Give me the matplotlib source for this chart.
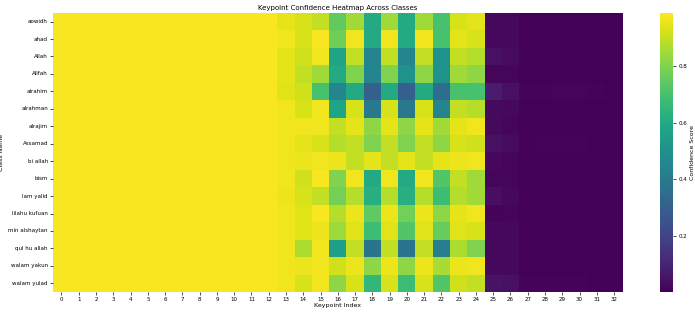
import numpy as np
import matplotlib
matplotlib.use("Agg")
import matplotlib.pyplot as plt
import seaborn as sns

class_names = ["aowidh", "ahad", "Allah", "Allfah", "alrahim", "alrahman", "alrajim",
               "Assamad", "bi allah", "bism", "lam yalid", "lilahu kufuan",
               "min alshaytan", "qul hu allah", "walam yakun", "walam yulad"]
keypoints = list(range(33))

Y = 0.98
# columns 0-12 (stable keypoints)
head = [Y] * 13
# columns 13-24 per class
mid = [
    [0.95, 0.93, 0.90, 0.75, 0.85, 0.60, 0.85, 0.60, 0.85, 0.70, 0.93, 0.95],
    [0.97, 0.93, 0.98, 0.77, 0.97, 0.60, 0.97, 0.60, 0.97, 0.70, 0.95, 0.93],
    [0.95, 0.92, 0.97, 0.58, 0.90, 0.45, 0.90, 0.45, 0.90, 0.50, 0.90, 0.88],
    [0.95, 0.90, 0.85, 0.60, 0.80, 0.45, 0.80, 0.50, 0.82, 0.50, 0.85, 0.82],
    [0.94, 0.92, 0.70, 0.45, 0.60, 0.30, 0.60, 0.30, 0.60, 0.35, 0.70, 0.70],
    [0.97, 0.93, 0.97, 0.58, 0.93, 0.40, 0.93, 0.40, 0.93, 0.45, 0.90, 0.88],
    [0.97, 0.97, 0.97, 0.90, 0.95, 0.82, 0.95, 0.82, 0.95, 0.85, 0.95, 0.97],
    [0.97, 0.95, 0.93, 0.88, 0.90, 0.80, 0.90, 0.80, 0.90, 0.82, 0.93, 0.92],
    [0.97, 0.96, 0.97, 0.96, 0.90, 0.95, 0.90, 0.95, 0.90, 0.95, 0.96, 0.97],
    [0.97, 0.92, 0.98, 0.80, 0.97, 0.60, 0.97, 0.60, 0.97, 0.72, 0.90, 0.85],
    [0.96, 0.93, 0.90, 0.78, 0.88, 0.62, 0.88, 0.62, 0.88, 0.68, 0.88, 0.85],
    [0.97, 0.94, 0.98, 0.88, 0.96, 0.75, 0.96, 0.78, 0.96, 0.82, 0.95, 0.97],
    [0.97, 0.94, 0.96, 0.84, 0.94, 0.68, 0.94, 0.72, 0.94, 0.76, 0.94, 0.93],
    [0.97, 0.87, 0.97, 0.55, 0.90, 0.38, 0.90, 0.38, 0.90, 0.42, 0.87, 0.80],
    [0.97, 0.96, 0.97, 0.92, 0.96, 0.82, 0.96, 0.82, 0.96, 0.86, 0.96, 0.97],
    [0.97, 0.93, 0.97, 0.82, 0.93, 0.65, 0.93, 0.68, 0.93, 0.72, 0.92, 0.90],
]
# columns 25-32 per class
tail = [
    [0.020, 0.020, 0.005, 0.005, 0.005, 0.005, 0.005, 0.005],
    [0.020, 0.020, 0.005, 0.005, 0.005, 0.005, 0.005, 0.005],
    [0.040, 0.030, 0.005, 0.005, 0.005, 0.005, 0.005, 0.005],
    [0.015, 0.015, 0.005, 0.005, 0.005, 0.005, 0.005, 0.005],
    [0.080, 0.040, 0.010, 0.010, 0.015, 0.015, 0.010, 0.005],
    [0.025, 0.020, 0.005, 0.005, 0.005, 0.005, 0.005, 0.005],
    [0.025, 0.015, 0.005, 0.005, 0.005, 0.005, 0.005, 0.005],
    [0.040, 0.030, 0.005, 0.010, 0.010, 0.010, 0.005, 0.005],
    [0.020, 0.015, 0.005, 0.005, 0.005, 0.005, 0.005, 0.005],
    [0.015, 0.015, 0.005, 0.005, 0.005, 0.005, 0.005, 0.005],
    [0.035, 0.020, 0.005, 0.005, 0.005, 0.005, 0.005, 0.005],
    [0.010, 0.015, 0.005, 0.005, 0.005, 0.005, 0.005, 0.005],
    [0.020, 0.020, 0.005, 0.005, 0.005, 0.005, 0.005, 0.005],
    [0.020, 0.020, 0.005, 0.005, 0.005, 0.005, 0.005, 0.005],
    [0.020, 0.020, 0.005, 0.005, 0.005, 0.005, 0.005, 0.005],
    [0.050, 0.040, 0.010, 0.010, 0.010, 0.010, 0.005, 0.005],
]

data = np.array([head + m + t for m, t in zip(mid, tail)])

fig = plt.figure(figsize=(6.95, 3.14), dpi=100)
ax = fig.add_axes([0.076, 0.07, 0.82, 0.889])
cax = fig.add_axes([0.950, 0.07, 0.019, 0.889])

sns.heatmap(data, ax=ax, cbar_ax=cax, cmap="viridis", vmin=0.0, vmax=0.99,
            xticklabels=keypoints, yticklabels=class_names,
            cbar_kws={"label": "Confidence Score"})

ax.set_title("Keypoint Confidence Heatmap Across Classes", fontsize=5, pad=2)
ax.set_xlabel("Keypoint Index", fontsize=4.5, labelpad=1)
ax.set_ylabel("Class Name", fontsize=4.5, labelpad=3)
ax.tick_params(axis="both", labelsize=4, length=2, width=0.5, pad=1.5)
ax.set_yticklabels(class_names, rotation=0)
ax.set_xticklabels([str(k) for k in keypoints], rotation=0)

cax.set_yticks([0.2, 0.4, 0.6, 0.8])
cax.tick_params(labelsize=4, length=2, width=0.5, pad=1.5)
cax.yaxis.label.set_size(4.5)
cax.yaxis.labelpad = 2

fig.savefig("out.png", dpi=100)
